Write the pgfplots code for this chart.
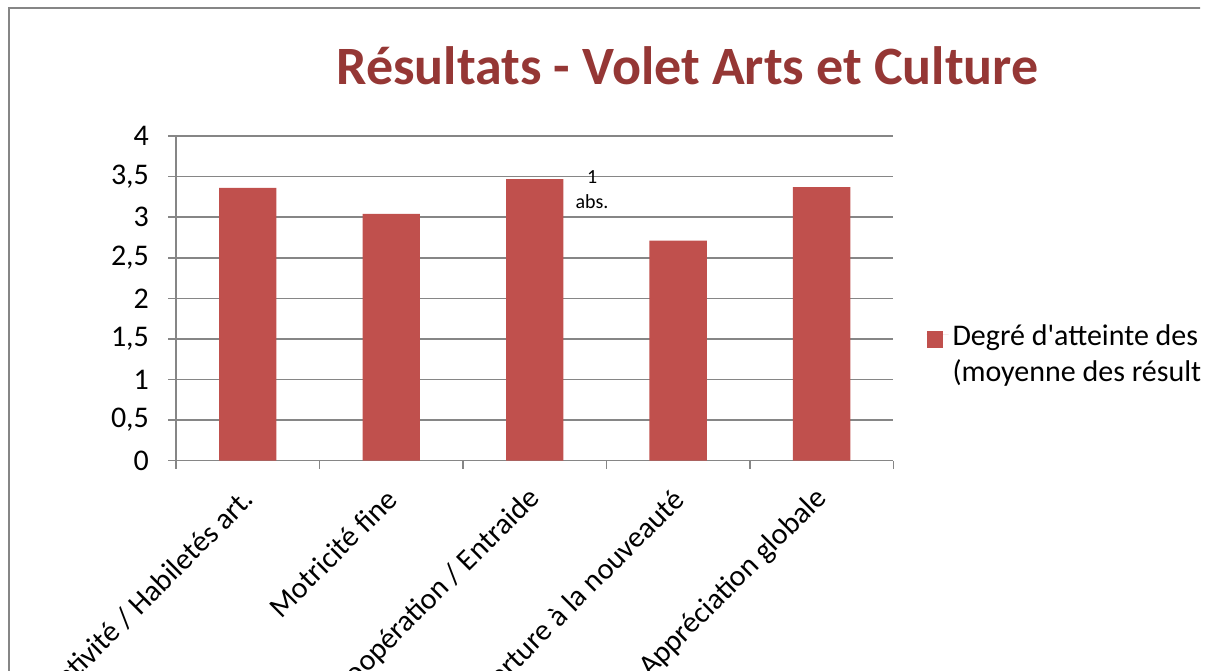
\documentclass[border=0pt]{standalone}
\usepackage{fontspec}
\setmainfont{Carlito}
\usepackage{pgfplots}
\pgfplotsset{compat=1.18}
\definecolor{barred}{HTML}{C0504D}
\definecolor{titlered}{HTML}{953735}
\definecolor{axgray}{HTML}{868686}

\begin{document}
\begin{tikzpicture}[x=0.5pt,y=0.5pt]
% page = 1213x670 px, 1 px = 0.5pt
\path[use as bounding box] (0,0) rectangle (1213,670);
\clip (0,0) rectangle (1200,670);
\draw[axgray, line width=1pt] (9,-20) -- (9,662) -- (1230,662);
\begin{axis}[
  at={(88pt,104.65pt)}, anchor=south west,
  scale only axis, width=358.7pt, height=162.35pt,
  ybar, bar width=28.7pt,
  xmin=-0.5, xmax=4.5, ymin=0, ymax=4,
  xtick={0,...,4},
  xticklabels={Créativité / Habiletés art., Motricité fine,
    Coopération / Entraide, Ouverture à la nouveauté, Appréciation globale},
  minor xtick={-0.5,0.5,...,4.5},
  ytick={0,0.5,...,4},
  axis lines*=left,
  axis line style={axgray, line width=0.75pt},
  tick align=outside,
  major tick length=4pt, minor tick length=4pt,
  tick style={axgray, line width=0.75pt},
  major x tick style={draw=none},
  ymajorgrids, grid style={axgray, line width=0.75pt},
  ticklabel style={font=\fontsize{15}{18}\selectfont},
  /pgf/number format/use comma,
  /pgf/number format/assume math mode=true,
  yticklabel style={xshift=-6pt},
  xticklabel style={xshift=2.8pt, yshift=-10.3pt, rotate=45, anchor=east},
  title={Résultats - Volet Arts et Culture},
  title style={at={(0.713,1)}, anchor=base, yshift=20pt,
    font=\fontsize{27}{32}\selectfont\bfseries, text=titlered},
  legend style={at={(1.0456,0.445)}, anchor=north west, draw=none, fill=none,
    inner sep=0pt, font=\fontsize{15}{18}\selectfont, cells={anchor=west}},
  clip=false
]
\addplot[fill=barred, draw=none,
  legend image code/.code={\fill[barred] (0pt,-6.5pt) rectangle (8pt,2pt);
    \path (0pt,0pt) -- (11pt,0pt);}]
  coordinates {(0,3.36) (1,3.04) (2,3.47) (3,2.71) (4,3.37)};
\addlegendentry{\begin{tabular}[t]{@{}l@{}}Degré d\textquotesingle atteinte des objectifs\\(moyenne des résultats)\end{tabular}}
\node[font=\fontsize{10}{12.5}\selectfont, align=center, inner sep=0pt]
  at (axis cs:2.4,3.34) {1\\abs.};
\end{axis}
\end{tikzpicture}
\end{document}
